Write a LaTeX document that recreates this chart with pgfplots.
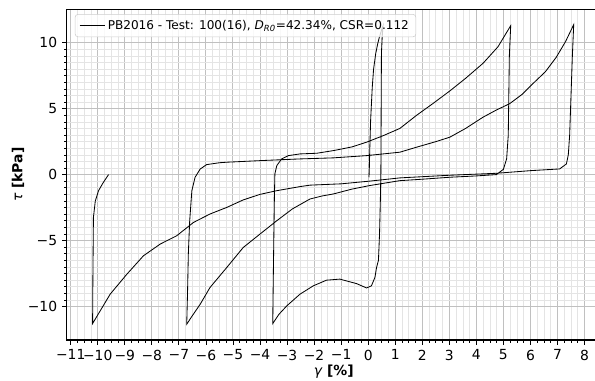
\documentclass[border=0pt]{standalone}
\usepackage{fontspec}
\setmainfont{DejaVu Sans}
\usepackage{pgfplots}
\pgfplotsset{compat=1.18}
\definecolor{majgrid}{RGB}{192,192,192}
\definecolor{mingrid}{RGB}{228,228,228}
\definecolor{legframe}{RGB}{204,204,204}
\begin{document}
\begin{tikzpicture}
\begin{axis}[
  name=ax,
  at={(0,0)}, anchor=south west,
  scale only axis, width=382.4pt, height=238.3pt,
  xmin=-11.14, xmax=8.49, ymin=-12.55, ymax=12.55,
  separate axis lines,
  axis line style={draw=none},
  xtick={-11,-10,-9,-8,-7,-6,-5,-4,-3,-2,-1,0,1,2,3,4,5,6,7,8},
  xticklabels={−11,−10,−9,−8,−7,−6,−5,−4,−3,−2,−1,0,1,2,3,4,5,6,7,8},
  ytick={-10,-5,0,5,10}, yticklabels={−10,−5,0,5,10},
  minor x tick num=3, minor y tick num=9,
  tick pos=left, tick align=outside,
  major tick length=3.5pt, minor tick length=2pt,
  major tick style={black, line width=0.6pt},
  minor tick style={black, line width=0.45pt},
  grid=both,
  major grid style={majgrid, line width=0.7pt},
  minor grid style={mingrid, line width=0.45pt},
  tick label style={font=\fontsize{10}{12}\selectfont},
  label style={font=\fontsize{10}{12}\selectfont},
  xlabel={{\itshape γ} \textbf{[\%]}},
  ylabel={{\itshape τ} \textbf{[kPa]}},
  xlabel style={at={(axis description cs:0.5027,-0.097)}, anchor=center},
  ylabel style={at={(axis description cs:-0.0922,0.5)}, anchor=center},
  legend cell align=left,
  legend style={at={(0.015,0.985)}, anchor=north west, draw=legframe, rounded corners=2pt,
    fill=white, fill opacity=0.8, text opacity=1, font=\fontsize{8.7}{10.2}\selectfont,
    inner xsep=3pt, inner ysep=2pt},
  legend image code/.code={\draw[#1] (0cm,0cm) -- (0.63cm,0cm);},
]
\addplot[black, line width=0.6pt] coordinates {
(0.03,-0.2) (0.04,0.3) (0.06,2.0) (0.09,4.1) (0.15,6.6) (0.2,8.0) (0.28,9.2) (0.35,9.9) (0.41,10.4) (0.5,11.0) (0.55,11.3)
(0.52,10.5) (0.49,9.2) (0.48,5.0) (0.47,0.3) (0.45,-2.0) (0.42,-4.5) (0.38,-6.5) (0.31,-7.05) (0.25,-7.8) (0.12,-8.44) (-0.06,-8.6)
(-0.43,-8.27) (-1.05,-7.93) (-1.54,-8.01) (-2.03,-8.44) (-2.52,-9.07) (-3.01,-9.96) (-3.3,-10.6) (-3.53,-11.31)
(-3.51,-8.0) (-3.49,-5.0) (-3.47,-2.0) (-3.45,0.05) (-3.38,0.68) (-3.2,1.19) (-2.95,1.44) (-2.52,1.57) (-1.9,1.62) (-1.29,1.82) (-0.6,2.1) (-0.06,2.46)
(0.55,2.95) (1.17,3.5) (1.79,4.5) (2.4,5.4) (3.02,6.35) (3.6,7.3) (4.25,8.45) (4.8,9.7) (5.27,11.3)
(5.22,9.0) (5.2,6.0) (5.18,3.0) (5.12,1.2) (5.0,0.4) (4.74,0.0) (4.0,-0.1) (3.02,-0.2) (2.0,-0.35) (1.17,-0.46) (0.03,-0.84) (-0.6,-1.1) (-1.29,-1.47) (-1.7,-1.62) (-2.15,-1.85)
(-2.8,-2.6) (-3.38,-3.5) (-4.0,-4.51) (-4.62,-5.53) (-5.23,-7.05) (-5.85,-8.57) (-6.21,-9.83) (-6.5,-10.7) (-6.71,-11.35)
(-6.68,-9.0) (-6.65,-6.0) (-6.6,-3.5) (-6.52,-1.22) (-6.4,-0.2) (-6.21,0.43) (-5.97,0.76) (-5.5,0.9) (-5.23,0.94) (-4.0,1.06) (-2.52,1.19) (-1.29,1.27) (-0.06,1.44) (1.17,1.7)
(1.79,2.08) (2.5,2.5) (3.02,2.84) (3.6,3.5) (4.25,4.36) (4.74,4.9) (5.23,5.38) (5.7,6.1) (6.09,6.9) (6.55,7.8) (6.96,8.92) (7.3,10.1) (7.6,11.38)
(7.55,9.0) (7.5,6.0) (7.45,3.0) (7.4,1.5) (7.33,0.81) (7.08,0.43) (6.0,0.3) (4.74,0.1) (3.0,-0.05) (1.17,-0.25) (0.03,-0.5) (-1.0,-0.7) (-2.15,-0.8) (-2.52,-0.91) (-3.38,-1.22)
(-4.0,-1.5) (-4.62,-1.92) (-5.23,-2.49) (-5.85,-2.99) (-6.46,-3.63) (-7.08,-4.64) (-7.69,-5.27) (-8.31,-6.16) (-8.92,-7.55) (-9.54,-9.07) (-10.19,-11.3)
(-10.18,-8.0) (-10.16,-3.25) (-10.09,-2.0) (-9.97,-1.22) (-9.79,-0.58) (-9.6,0.0)
};
\addlegendentry{PB2016 - Test: 100(16), {\itshape D}\textsubscript{\itshape R0}=42.34\%, CSR=0.112}
\end{axis}
\draw[black, line width=0.8pt] (ax.north east) -- (ax.north west) -- (ax.south west) -- (ax.south east);
\pgfresetboundingbox
\path[use as bounding box] (-48.2pt,-29.5pt) rectangle ++(427bp,273.4bp);
\end{tikzpicture}
\end{document}
